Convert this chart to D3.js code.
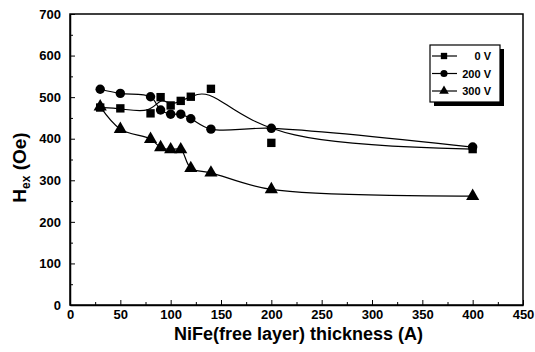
<html>
<head>
<script src="https://d3js.org/d3.v7.min.js"></script>
<style>
  body { margin: 0; background: #fff; }
  text { font-family: "Liberation Sans", Arial, sans-serif; font-weight: bold; }
</style>
</head>
<body>
<div id="chart"></div>
<script>
// thickness (A)
const thickness = [30, 50, 80, 90, 100, 110, 120, 140, 200, 400];
// Hex (Oe) for each bias voltage
const hex0V   = [475, 473, 461, 500, 480, 491, 501, 520, 390, 375];
const hex200V = [519, 509, 501, 469, 459, 459, 448, 423, 425, 380];
const hex300V = [477, 423, 399, 379, 374, 374, 329, 318, 278, 262];
const seriesNames = ["0 V", "200 V", "300 V"];
const xTicks = [0, 50, 100, 150, 200, 250, 300, 350, 400, 450];
const yTicks = [0, 100, 200, 300, 400, 500, 600, 700];

const W = 535, H = 352;
const margin = { top: 14, right: 12, bottom: 47, left: 70 };
const width = W - margin.left - margin.right,
      height = H - margin.top - margin.bottom;

const svg = d3.select("#chart").append("svg")
  .attr("width", W).attr("height", H);
const g = svg.append("g")
  .attr("transform", "translate(" + margin.left + "," + margin.top + ")");

const x = d3.scaleLinear().domain([0, 450]).range([0, width]);
const y = d3.scaleLinear().domain([0, 700]).range([height, 0]);

// frame
g.append("rect").attr("width", width).attr("height", height)
  .attr("fill", "none").attr("stroke", "#000").attr("stroke-width", 1.5);

// bottom axis, ticks inward
const xAxis = g.append("g").attr("transform", "translate(0," + height + ")")
  .call(d3.axisBottom(x).tickValues(xTicks).tickSizeInner(-5).tickSizeOuter(0).tickPadding(5));
const xMinor = g.append("g").attr("transform", "translate(0," + height + ")")
  .call(d3.axisBottom(x).tickValues(d3.range(25, 450, 50)).tickSize(-3).tickFormat(""));
xMinor.select(".domain").remove();
xMinor.selectAll("text").remove();
xAxis.select(".domain").attr("stroke-width", 1.5);
xAxis.selectAll("text").attr("font-size", 13).attr("fill", "#000");

const yAxis = g.append("g")
  .call(d3.axisLeft(y).tickValues(yTicks).tickSizeInner(-5).tickSizeOuter(0).tickPadding(9));
const yMinor = g.append("g")
  .call(d3.axisLeft(y).tickValues(d3.range(50, 700, 100)).tickSize(-3).tickFormat(""));
yMinor.select(".domain").remove();
yMinor.selectAll("text").remove();
yAxis.select(".domain").attr("stroke-width", 1.5);
yAxis.selectAll("text").attr("font-size", 13).attr("fill", "#000");

// axis titles
svg.append("text").attr("x", margin.left + width / 2 + 2).attr("y", 340)
  .attr("text-anchor", "middle").attr("font-size", 18)
  .text("NiFe(free layer) thickness (A)");
const yl = svg.append("text")
  .attr("transform", "translate(26," + (margin.top + height / 2 + 8) + ") rotate(-90)")
  .attr("text-anchor", "middle").attr("font-size", 19);
yl.append("tspan").text("H");
yl.append("tspan").attr("font-size", 12).attr("dy", 4).text("ex");
yl.append("tspan").attr("dy", -4).text(" (Oe)");

const series = [
  { name: seriesNames[0], vals: hex0V, sym: d3.symbolSquare, size: 70, curve: d3.curveBasis },
  { name: seriesNames[1], vals: hex200V, sym: d3.symbolCircle, size: 70, curve: d3.curveCatmullRom },
  { name: seriesNames[2], vals: hex300V, sym: d3.symbolTriangle, size: 75, curve: d3.curveCatmullRom }
];

series.forEach(s => {
  const pts = thickness.map((t, i) => [t, s.vals[i]]);
  const line = d3.line().x(d => x(d[0])).y(d => y(d[1])).curve(s.curve);
  g.append("path").attr("d", line(pts))
    .attr("fill", "none").attr("stroke", "#000").attr("stroke-width", 1.2);
  g.selectAll(null).data(pts).enter().append("path")
    .attr("transform", d => "translate(" + x(d[0]) + "," + y(d[1]) + ")")
    .attr("d", d3.symbol().type(s.sym).size(s.size))
    .attr("fill", "#000");
});

// legend
const lg = svg.append("g").attr("transform", "translate(430,45)");
lg.append("rect").attr("x", 4).attr("y", 4).attr("width", 70).attr("height", 57).attr("fill", "#000");
lg.append("rect").attr("width", 70).attr("height", 57).attr("fill", "#fff")
  .attr("stroke", "#000").attr("stroke-width", 1.2);
series.forEach((s, i) => {
  const yy = 11 + i * 17.5;
  lg.append("line").attr("x1", 2).attr("x2", 27).attr("y1", yy).attr("y2", yy)
    .attr("stroke", "#000").attr("stroke-width", 1.2);
  lg.append("path").attr("transform", "translate(14," + yy + ")")
    .attr("d", d3.symbol().type(s.sym).size(40)).attr("fill", "#000");
  lg.append("text").attr("x", 61).attr("y", yy + 4).attr("text-anchor", "end")
    .attr("font-size", 11).text(s.name);
});
</script>
</body>
</html>
